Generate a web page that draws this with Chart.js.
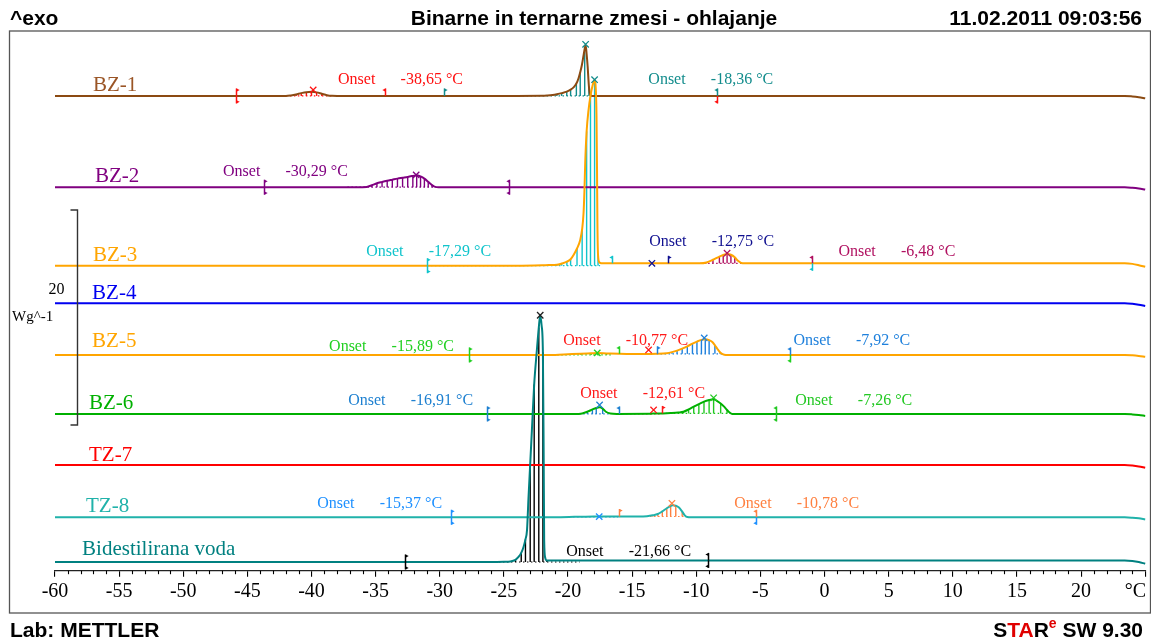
<!DOCTYPE html>
<html>
<head>
<meta charset="utf-8">
<script src="https://cdn.jsdelivr.net/npm/chart.js@4/dist/chart.umd.min.js"></script>
<style>
  html, body { margin: 0; padding: 0; background: #fff; }
  canvas { display: block; }
</style>
</head>
<body>
<canvas id="dsc" width="1151" height="641"></canvas>
<script>
// ---- DSC cooling curves: heat flow (Wg^-1, exo up) against temperature (°C) ----
const curveNames = ['BZ-1', 'BZ-2', 'BZ-3', 'BZ-4', 'BZ-5', 'BZ-6', 'TZ-7', 'TZ-8', 'Bidestilirana voda'];

// stacking offset of every curve, Wg^-1
const curveOffsets = [44.16, 35.67, 28.37, 24.87, 20.07, 14.58, 9.83, 4.97, 0.81];

// [temperature °C, heat flow Wg^-1 relative to the curve offset]
const bz1 = [[-60,0],[-42,0],[-41.6,0.05],[-41.2,0.14],[-40.8,0.26],[-40.4,0.35],[-40,0.38],[-39.6,0.33],[-39.2,0.2],[-38.8,0.07],[-38.4,0.01],[-38,0],
  [-24,0],[-22,0.01],[-21.6,0.04],[-21.2,0.09],[-20.87,0.16],[-20.5,0.26],[-20.1,0.4],[-19.8,0.58],[-19.55,0.82],[-19.35,1.15],[-19.18,1.65],[-19.05,2.2],
  [-18.92,2.88],[-18.8,3.7],[-18.7,4.4],[-18.63,4.74],[-18.55,3.9],[-18.47,2.73],[-18.37,0.87],[-18.27,0.1],[-18.1,0],[23.4,0],[24,-0.05],[24.5,-0.12],[25,-0.22]];
const bz2 = [[-60,0],[-43.7,0],[-36.5,0],[-35.7,0.03],[-35.3,0.18],[-34.9,0.37],[-34.5,0.49],[-34.1,0.6],[-33.7,0.7],[-33.3,0.8],[-32.9,0.88],[-32.5,0.96],
  [-32.1,1.05],[-31.8,1.12],[-31.5,1.0],[-31.2,0.8],[-30.9,0.5],[-30.6,0.2],[-30.35,0.03],[-30.1,0],[23.4,0],[24,-0.05],[24.5,-0.12],[25,-0.22]];
const bz3 = [[-60,0],[-31,0],[-24,0],[-22,0.04],[-21.5,0.06],[-20.87,0.08],[-20.5,0.2],[-20.09,0.37],[-19.8,0.6],[-19.57,1.0],[-19.3,1.6],[-19.05,2.4],
  [-18.9,3.4],[-18.79,4.9],[-18.72,7.0],[-18.66,9.6],[-18.55,12.5],[-18.4,14.5],[-18.25,15.8],[-18.1,16.7],[-17.93,17.27],[-17.84,16.5],[-17.78,14.0],
  [-17.74,9.0],[-17.71,4.0],[-17.66,1.0],[-17.55,0.3],[-17.4,0.22],[-12,0.22],[-9.7,0.22],[-9.2,0.3],[-8.7,0.55],[-8.2,0.85],[-7.9,1.0],[-7.6,1.09],
  [-7.3,1.02],[-7.0,0.78],[-6.75,0.45],[-6.5,0.25],[-6.2,0.22],[23.4,0.22],[24,0.17],[24.5,0.05],[25,-0.1]];
const bz4 = [[-60,0],[23.4,0],[24,-0.05],[24.5,-0.13],[25,-0.25]];
const bz5 = [[-60,0],[-27.7,0],[-21,0],[-20,0.06],[-19,0.12],[-18.2,0.15],[-17.7,0.17],[-17,0.14],[-16,0.1],[-15,0.08],[-14,0.08],[-13.1,0.1],
  [-12.3,0.16],[-11.9,0.26],[-11.5,0.4],[-11.1,0.58],[-10.7,0.8],[-10.3,1.05],[-9.95,1.24],[-9.6,1.4],[-9.3,1.46],[-9.0,1.38],[-8.75,1.2],[-8.55,0.9],
  [-8.35,0.55],[-8.15,0.25],[-7.95,0.08],[-7.7,0],[23.4,0],[24,-0.04],[24.5,-0.1],[25,-0.18]];
const bz6 = [[-60,0],[-26.3,0],[-19.5,0],[-18.9,0.05],[-18.5,0.2],[-18.1,0.42],[-17.8,0.56],[-17.54,0.62],[-17.3,0.5],[-17.05,0.2],[-16.7,0.04],[-16.2,0],
  [-13.5,0.03],[-12.6,0.05],[-12,0.08],[-11.4,0.13],[-11,0.2],[-10.6,0.42],[-10.2,0.68],[-9.8,0.92],[-9.4,1.15],[-9.0,1.3],[-8.65,1.37],[-8.4,1.22],
  [-8.1,0.98],[-7.85,0.7],[-7.6,0.37],[-7.4,0.13],[-7.2,0],[23.4,0],[24,-0.04],[24.5,-0.1],[25,-0.18]];
const tz7 = [[-60,0],[23.4,0],[24,-0.05],[24.5,-0.13],[25,-0.25]];
const tz8 = [[-60,0],[-29.1,0],[-22,0],[-19.5,0.04],[-18,0.08],[-17,0.08],[-16,0.07],[-14.5,0.07],[-13.85,0.1],[-13.4,0.18],[-13.0,0.3],[-12.65,0.55],
  [-12.3,0.84],[-12.0,1.06],[-11.85,1.12],[-11.6,1.08],[-11.35,0.9],[-11.1,0.52],[-10.9,0.18],[-10.7,0.02],[-10.4,0],[23.4,0],[24,-0.04],[24.5,-0.1],[25,-0.2]];
const voda = [[-60,0],[-32.7,0],[-26,0],[-25,0.02],[-24.5,0.05],[-24.1,0.2],[-23.86,0.47],[-23.65,0.85],[-23.47,1.4],[-23.32,2.1],[-23.2,2.94],[-23.08,6.04],
  [-22.95,9.1],[-22.82,12.2],[-22.64,16.5],[-22.43,19.7],[-22.28,21.8],[-22.17,22.95],[-22.06,22.0],[-21.96,19.5],[-21.9,10.0],[-21.86,2.0],[-21.78,0.4],
  [-21.65,0.15],[23.4,0.15],[24,0.1],[24.5,0],[25,-0.16]];

const curves = [bz1, bz2, bz3, bz4, bz5, bz6, tz7, tz8, voda];

// onset temperatures printed beside the evaluations, °C
const onsetValues = [-38.65, -18.36, -30.29, -17.29, -12.75, -6.48, -15.89, -10.77, -7.92, -16.91, -12.61, -7.26, -15.37, -10.78, -21.66];
// [curve, temperature where the "Onset" word starts, height above the curve offset]
const onsetPlaces = [[0,-37.93,1.49],[0,-13.74,1.49],[1,-46.9,1.42],[2,-35.74,1.27],[2,-13.67,2.2],[2,1.08,1.27],[4,-38.63,0.74],[4,-20.37,1.3],
  [4,-2.43,1.3],[5,-37.14,1.21],[5,-19.05,1.86],[5,-2.28,1.21],[7,-39.56,1.24],[7,-7.04,1.24],[8,-20.14,0.93]];

// integrated ranges [curve, from °C, to °C]
const integrals = [[0,-42,-38.3],[0,-27.6,-18.2],[1,-37.2,-30.3],[2,-31,-17.5],[2,-9.7,-6.5],[4,-27.7,-16.5],[4,-13.1,-7.9],
  [5,-26.3,-16.8],[5,-16.1,-12.7],[5,-12.7,-7.2],[7,-19.6,-16.1],[7,-16.1,-10.7],[8,-31,-19.1]];

// evaluation limits [curve, °C, side (1 above, -1 below, 0 both), 'L' start / 'R' end]
const limits = [[0,-45.9,0,'L'],[0,-34.3,1,'R'],[0,-29.7,1,'L'],[0,-8.4,1,'R'],[0,-8.4,-1,'R'],
  [1,-43.7,0,'L'],[1,-24.6,0,'R'],
  [2,-31.0,0,'L'],[2,-16.6,1,'R'],[2,-12.2,1,'L'],[2,-1.0,1,'R'],[2,-1.0,-1,'R'],
  [4,-27.7,0,'L'],[4,-16.06,1,'R'],[4,-13.07,1,'L'],[4,-2.67,1,'R'],[4,-2.67,-1,'R'],
  [5,-26.3,0,'L'],[5,-16.06,1,'R'],[5,-12.7,1,'L'],[5,-3.8,0,'R'],
  [7,-29.1,0,'L'],[7,-16.06,1,'L'],[7,-5.35,1,'R'],[7,-5.35,-1,'R'],
  [8,-32.7,0,'L'],[8,-9.1,0,'R']];

// peak marks [curve, °C, Wg^-1 above the curve offset]
const peaks = [[0,-39.87,0.56],[0,-18.63,4.8],[1,-31.84,1.15],[2,-17.93,17.3],[2,-13.46,0.22],[2,-7.6,1.16],
  [4,-17.72,0.19],[4,-13.72,0.46],[4,-9.38,1.58],[5,-17.54,0.84],[5,-13.33,0.37],[5,-8.65,1.5],
  [7,-17.57,0.06],[7,-11.9,1.3],[8,-22.17,22.95]];

// ---- styling ----
const curveColors = ['#8B4A12', '#800080', '#FFA500', '#0000F0', '#FFA500', '#00B000', '#FF0000', '#20B2AA', '#008080'];
const nameColors  = ['#9A5526', '#800080', '#FFA500', '#0000F0', '#FFA500', '#00B000', '#FF0000', '#20B2AA', '#008080'];
const curveOrder  = [3, 4, 1, 5, 6, 7, 8, 9, 0];
const labelPlaces = [[-57.04,0.99],[-56.88,0.96],[-57.04,0.99],[-57.11,0.96],[-57.11,1.21],[-57.35,1.02],[-57.35,0.93],[-57.58,0.96],[-57.89,1.12]];
const onsetColors = ['#FF1010','#128C8C','#800080','#10C4CC','#101090','#B01060','#22D022','#FF1A1A','#1E80DC','#1E80D0','#FF1A1A','#22C822','#1E90FF','#FF8040','#000000'];
const integralColors = ['#FF1010','#128C8C','#800080','#10C4CC','#B01060','#22D022','#1E80DC','#1E80D0','#FF3030','#22C822','#1E90FF','#FF8040','#000000'];
const limitColors = ['#FF1010','#FF1010','#128C8C','#128C8C','#FF1010','#800080','#800080','#10C4CC','#10C4CC','#101090','#B01060','#10C4CC',
  '#22D022','#22D022','#1E80DC','#1E80DC','#22D022','#1E80D0','#1E80D0','#FF1A1A','#22C822','#1E90FF','#FF8040','#FF8040','#1E90FF','#000000','#000000'];
const peakColors = ['#FF1010','#128C8C','#800080','#128C8C','#101090','#B01060','#22D022','#FF1A1A','#1E80DC','#1E80D0','#FF1A1A','#22C822','#1E90FF','#FF8040','#202020'];

const SERIF = '"Liberation Serif", "DejaVu Serif", serif';
const SANS = '"Liberation Sans", Arial, sans-serif';

function fmtOnset(v) { return v.toFixed(2).replace('.', ',') + ' °C'; }

function curveValueAt(i, T) {
  const d = curves[i];
  for (let k = 1; k < d.length; k++) {
    if (T <= d[k][0]) {
      const a = d[k - 1], b = d[k];
      return a[1] + (T - a[0]) / (b[0] - a[0]) * (b[1] - a[1]);
    }
  }
  return d[d.length - 1][1];
}

const datasets = curves.map((d, i) => ({
  label: curveNames[i],
  data: d.map(p => ({ x: p[0], y: p[1] + curveOffsets[i] })),
  borderColor: curveColors[i],
  borderWidth: 2,
  pointRadius: 0,
  fill: false,
  cubicInterpolationMode: 'monotone',
  order: curveOrder[i],
  clip: false
}));
datasets.push({
  label: 'peaks',
  data: peaks.map(p => ({ x: p[1], y: p[2] + curveOffsets[p[0]] })),
  showLine: false,
  pointStyle: 'crossRot',
  pointRadius: 4.5,
  pointBorderWidth: 1.3,
  pointBorderColor: peakColors,
  pointBackgroundColor: peakColors,
  order: -1,
  clip: false
});

// frame, headings, integrals, evaluation limits and texts
const decorations = {
  id: 'decorations',
  beforeDraw(chart) {
    const ctx = chart.ctx;
    ctx.save();
    ctx.fillStyle = '#fff';
    ctx.fillRect(0, 0, chart.width, chart.height);
    ctx.strokeStyle = '#555';
    ctx.lineWidth = 1.3;
    ctx.strokeRect(9.5, 31, 1141, 582);
    ctx.fillStyle = '#000';
    ctx.font = 'bold 21px ' + SANS;
    ctx.textBaseline = 'alphabetic';
    ctx.textAlign = 'left';
    ctx.fillText('^exo', 10, 25);
    ctx.textAlign = 'center';
    ctx.fillText('Binarne in ternarne zmesi - ohlajanje', 594, 25);
    ctx.textAlign = 'right';
    ctx.fillText('11.02.2011 09:03:56', 1142, 25);
    ctx.textAlign = 'left';
    ctx.fillText('Lab: METTLER', 10, 637);
    // STARe SW 9.30
    const parts = [['S', '#000', 21, 0], ['TA', '#E00000', 21, 0], ['R', '#000', 21, 0], ['e', '#E00000', 14, -9], [' SW 9.30', '#000', 21, 0]];
    let w = 0;
    parts.forEach(p => { ctx.font = 'bold ' + p[2] + 'px ' + SANS; w += ctx.measureText(p[0]).width; });
    let x = 1143 - w;
    parts.forEach(p => {
      ctx.font = 'bold ' + p[2] + 'px ' + SANS;
      ctx.fillStyle = p[1];
      ctx.fillText(p[0], x, 637 + p[3]);
      x += ctx.measureText(p[0]).width;
    });
    ctx.restore();
  },
  beforeDatasetsDraw(chart) {
    const ctx = chart.ctx, xs = chart.scales.x, ys = chart.scales.y;
    ctx.save();
    integrals.forEach((g, k) => {
      const [c, from, to] = g;
      const off = curveOffsets[c];
      const base = curveValueAt(c, from);
      const yb = ys.getPixelForValue(off + base);
      ctx.strokeStyle = integralColors[k];
      ctx.lineWidth = 1.2;
      ctx.setLineDash([1.5, 2.5]);
      ctx.beginPath();
      ctx.moveTo(xs.getPixelForValue(from), yb);
      ctx.lineTo(xs.getPixelForValue(to), yb);
      ctx.stroke();
      ctx.setLineDash([]);
      ctx.lineWidth = 1.4;
      let last = -1e9;
      curves[c].forEach(p => {
        if (p[0] < from || p[0] > to) return;
        if (Math.abs(p[1] - base) < 0.03) return;
        const xp = xs.getPixelForValue(p[0]);
        if (xp - last < 3.4) return;
        last = xp;
        ctx.beginPath();
        ctx.moveTo(xp, yb);
        ctx.lineTo(xp, ys.getPixelForValue(off + p[1]));
        ctx.stroke();
      });
    });
    ctx.restore();
  },
  afterDatasetsDraw(chart) {
    const ctx = chart.ctx, xs = chart.scales.x, ys = chart.scales.y;
    ctx.save();
    // evaluation limits
    limits.forEach((m, k) => {
      const [c, T, side, dir] = m;
      const x = Math.round(xs.getPixelForValue(T)) + 0.5;
      const y = ys.getPixelForValue(curveOffsets[c] + curveValueAt(c, T));
      const col = limitColors[k];
      ctx.strokeStyle = col; ctx.fillStyle = col; ctx.lineWidth = 1.5;
      const sides = side === 0 ? [1, -1] : [side];
      sides.forEach(s => {
        const yt = y - s * 7.5;
        ctx.beginPath(); ctx.moveTo(x, y); ctx.lineTo(x, yt); ctx.stroke();
        const d = dir === 'L' ? 1 : -1;
        ctx.beginPath();
        ctx.moveTo(x, yt);
        ctx.lineTo(x + 3.2 * d, yt + s * 1.6);
        ctx.lineTo(x, yt + s * 3.2);
        ctx.closePath();
        ctx.fill();
      });
    });
    // onset texts
    ctx.font = '16px ' + SERIF;
    ctx.textAlign = 'left';
    ctx.textBaseline = 'middle';
    onsetPlaces.forEach((o, k) => {
      const [c, T, dy] = o;
      const x = xs.getPixelForValue(T);
      const y = ys.getPixelForValue(curveOffsets[c] + dy);
      ctx.fillStyle = onsetColors[k];
      ctx.fillText('Onset', x, y);
      ctx.fillText(fmtOnset(onsetValues[k]), x + 62.5, y);
    });
    // curve names
    ctx.font = '21px ' + SERIF;
    curveNames.forEach((n, i) => {
      const [T, dy] = labelPlaces[i];
      ctx.fillStyle = nameColors[i];
      ctx.fillText(n, xs.getPixelForValue(T), ys.getPixelForValue(curveOffsets[i] + dy));
    });
    // scale bar: 20 Wg^-1
    const barBottom = 13.55, barSpan = 20;
    const bx = Math.round(xs.getPixelForValue(-58.3)) + 0.5;
    const y0 = ys.getPixelForValue(barBottom), y1 = ys.getPixelForValue(barBottom + barSpan);
    ctx.strokeStyle = '#333'; ctx.lineWidth = 1.4;
    ctx.beginPath();
    ctx.moveTo(bx - 7, y1); ctx.lineTo(bx, y1); ctx.lineTo(bx, y0); ctx.lineTo(bx - 7, y0);
    ctx.stroke();
    ctx.fillStyle = '#000';
    ctx.font = '16px ' + SERIF;
    ctx.textAlign = 'right';
    ctx.fillText(String(barSpan), bx - 13, 290);
    ctx.textAlign = 'left';
    ctx.font = '15px ' + SERIF;
    ctx.fillText('Wg^-1', 12, 317);
    // minor ticks every 1 °C and the unit
    const ab = chart.chartArea.bottom;
    ctx.strokeStyle = '#000'; ctx.lineWidth = 1.1;
    for (let t = -60; t <= 25; t++) {
      if (t % 5 === 0) continue;
      const x = Math.round(xs.getPixelForValue(t)) + 0.5;
      ctx.beginPath(); ctx.moveTo(x, ab); ctx.lineTo(x, ab + 3.5); ctx.stroke();
    }
    ctx.font = '20px ' + SERIF;
    ctx.textAlign = 'right';
    ctx.fillStyle = '#000';
    ctx.fillText('°C', xs.getPixelForValue(25) + 1, 592);
    ctx.restore();
  }
};

new Chart(document.getElementById('dsc'), {
  type: 'line',
  data: { datasets },
  options: {
    responsive: false,
    animation: false,
    devicePixelRatio: 1,
    layout: { padding: { left: 55, right: 5.3, top: 31, bottom: 30.3 } },
    plugins: { legend: { display: false }, tooltip: { enabled: false } },
    scales: {
      x: {
        type: 'linear', min: -60, max: 25,
        afterFit(s) { s.height = 40; },
        ticks: {
          stepSize: 5, autoSkip: false, maxRotation: 0, padding: 3, color: '#000',
          font: { family: SERIF, size: 20 },
          callback: v => (v === 25 ? '' : String(v))
        },
        grid: { drawOnChartArea: false, drawTicks: true, tickLength: 6, color: '#000', lineWidth: 1.1 },
        border: { display: true, color: '#222', width: 1.3 }
      },
      y: { type: 'linear', display: false, min: 0, max: 50.2 }
    }
  },
  plugins: [decorations]
});
</script>
</body>
</html>
